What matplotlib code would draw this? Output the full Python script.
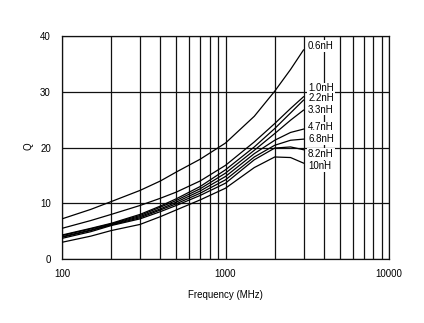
import matplotlib
matplotlib.use("Agg")
import matplotlib.pyplot as plt
from matplotlib.ticker import LogLocator, FixedLocator, NullFormatter, FixedFormatter

plt.rcParams['font.family'] = ['Liberation Sans', 'DejaVu Sans']

# Frequency points (MHz)
freq = [100, 150, 200, 300, 400, 500, 700, 1000, 1500, 2000, 2500, 3000]

# Q versus frequency for each inductance value
q_06nH = [7.2, 8.9, 10.3, 12.3, 14.0, 15.6, 17.9, 20.8, 25.6, 30.1, 34.0, 37.5]
q_10nH_1 = [5.5, 6.9, 8.0, 9.6, 10.9, 12.0, 14.0, 16.8, 21.0, 24.3, 27.0, 29.1]
q_22nH = [4.3, 5.5, 6.4, 8.0, 9.5, 10.8, 13.0, 16.0, 20.1, 23.4, 26.2, 28.5]
q_33nH = [4.2, 5.4, 6.3, 7.8, 9.3, 10.5, 12.6, 15.4, 19.5, 22.5, 24.9, 26.7]
q_47nH = [4.0, 5.2, 6.2, 7.6, 9.0, 10.2, 12.2, 14.8, 18.9, 21.3, 22.7, 23.3]
q_68nH = [3.9, 5.1, 6.1, 7.4, 8.8, 9.9, 11.8, 14.2, 18.3, 20.4, 21.3, 21.5]
q_82nH = [3.7, 4.9, 6.0, 7.2, 8.5, 9.6, 11.4, 13.6, 17.8, 19.9, 20.1, 19.6]
q_100nH = [3.0, 4.1, 5.1, 6.2, 7.6, 8.8, 10.6, 12.7, 16.4, 18.3, 18.2, 17.2]

series = [q_06nH, q_10nH_1, q_22nH, q_33nH, q_47nH, q_68nH, q_82nH, q_100nH]
labels = ["0.6nH", "1.0nH", "2.2nH", "3.3nH", "4.7nH", "6.8nH", "8.2nH", "10nH"]
label_y = [38.2, 30.6, 28.9, 26.8, 23.6, 21.5, 18.8, 16.6]

x_ticks = [100, 1000, 10000]
x_tick_labels = ["100", "1000", "10000"]
y_ticks = [0, 10, 20, 30, 40]

fig = plt.figure(figsize=(4.24, 3.23), dpi=100)
ax = fig.add_axes([62 / 424, 64 / 323, 327 / 424, 223 / 323])

ax.set_xscale('log')
ax.set_xlim(100, 10000)
ax.set_ylim(0, 40)

grid_kw = dict(color='#111111', linewidth=0.9)
ax.xaxis.set_major_locator(FixedLocator(x_ticks))
ax.xaxis.set_major_formatter(FixedFormatter(x_tick_labels))
ax.xaxis.set_minor_locator(LogLocator(base=10, subs=range(2, 10)))
ax.xaxis.set_minor_formatter(NullFormatter())
ax.yaxis.set_major_locator(FixedLocator(y_ticks))
ax.grid(which='major', axis='both', **grid_kw)
ax.grid(which='minor', axis='x', **grid_kw)
ax.set_axisbelow(True)

for s in ax.spines.values():
    s.set_color('#111111')
    s.set_linewidth(0.9)

ax.tick_params(which='both', length=0, labelsize=7, colors='black')
ax.tick_params(axis='x', pad=7)
ax.tick_params(axis='y', pad=8)

for q in series:
    ax.plot(freq, q, color='black', linewidth=0.9, zorder=3)

for lab, yv in zip(labels, label_y):
    ax.text(3200, yv, lab, fontsize=7, ha='left', va='center', zorder=4,
            bbox=dict(facecolor='white', edgecolor='none', pad=0.6))

ax.set_xlabel("Frequency (MHz)", fontsize=7, labelpad=8)
fig.text(28 / 424, 1 - 146 / 323, "Q", fontsize=7, rotation=90,
         ha='center', va='center')

fig.savefig("out.png", dpi=100)
